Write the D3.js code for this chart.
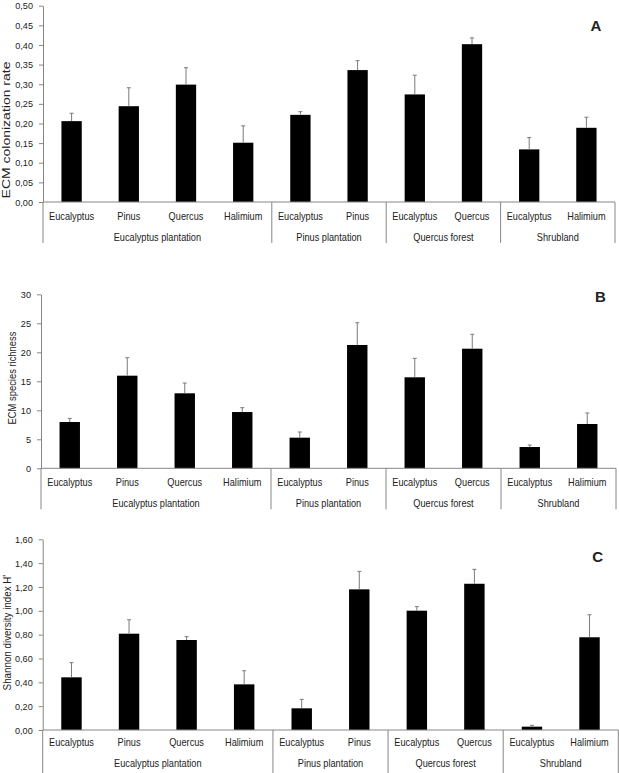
<!DOCTYPE html>
<html>
<head>
<meta charset="utf-8">
<script src="https://cdn.jsdelivr.net/npm/d3@7"></script>
<style>
  html, body { margin: 0; padding: 0; background: #fff; }
  svg { display: block; }
  text { font-family: "Liberation Sans", Arial, sans-serif; fill: #222; }
</style>
</head>
<body>
<svg id="chart" width="619" height="773"></svg>
<script>
// ---------- data ----------
const groups = ["Eucalyptus plantation", "Pinus plantation", "Quercus forest", "Shrubland"];
const hosts = ["Eucalyptus", "Pinus", "Quercus", "Halimium",
               "Eucalyptus", "Pinus",
               "Eucalyptus", "Quercus",
               "Eucalyptus", "Halimium"];
const hostGroup = [0, 0, 0, 0, 1, 1, 2, 2, 3, 3];

const colonization    = [0.206, 0.244, 0.299, 0.151, 0.222, 0.336, 0.274, 0.402, 0.134, 0.189];
const colonizationErr = [0.020, 0.047, 0.043, 0.043, 0.008, 0.024, 0.049, 0.016, 0.030, 0.027];

const richness    = [7.98, 15.97, 12.93, 9.70, 5.28, 21.26, 15.69, 20.62, 3.67, 7.64];
const richnessErr = [0.62, 3.10, 1.77, 0.75, 0.98, 3.84, 3.27, 2.48, 0.34, 1.89];

const shannon    = [0.442, 0.808, 0.755, 0.383, 0.182, 1.180, 1.001, 1.227, 0.028, 0.778];
const shannonErr = [0.123, 0.117, 0.028, 0.114, 0.075, 0.151, 0.034, 0.121, 0.011, 0.189];

const ticksA = [0, 0.05, 0.10, 0.15, 0.20, 0.25, 0.30, 0.35, 0.40, 0.45, 0.50];
const ticksB = [0, 5, 10, 15, 20, 25, 30];
const ticksC = [0, 0.20, 0.40, 0.60, 0.80, 1.00, 1.20, 1.40, 1.60];

const titleA = "ECM colonization rate";
const titleB = "ECM species richness";
const titleC = "Shannon diversity index H'";

// ---------- formats ----------
const locale = d3.formatLocale({decimal: ",", thousands: ".", grouping: [3], currency: ["", "€"]});
const fmt2 = locale.format(".2f");
const fmt0 = d3.format("d");

// ---------- layout (separate from data) ----------
const panels = [
  {values: colonization, errors: colonizationErr, ticks: ticksA, fmt: fmt2, title: titleA, letter: "A",
   x0: 43, x1: 615, yTop: 5.7, yZero: 202, titleX: 6.5, titleY: 130, titleSx: 1.4,
   letterX: 596, letterY: 30.7, catDy: 18, groupDy: 39, sepDy: 41},
  {values: richness, errors: richnessErr, ticks: ticksB, fmt: fmt0, title: titleB, letter: "B",
   x0: 41, x1: 616, yTop: 294.3, yZero: 468.3, titleX: 12.5, titleY: 378, titleSx: 0.94,
   letterX: 600.5, letterY: 301.7, catDy: 17.7, groupDy: 38.4, sepDy: 41},
  {values: shannon, errors: shannonErr, ticks: ticksC, fmt: fmt2, title: titleC, letter: "C",
   x0: 42.7, x1: 618.3, yTop: 539.3, yZero: 730, titleX: 7, titleY: 632.6, titleSx: 0.98,
   letterX: 597.7, letterY: 561.7, catDy: 16, groupDy: 36.7, sepDy: 45}
];

const AXIS = "#868686";
const ERR = "#7a7a7a";
const svg = d3.select("#chart");
const idx = d3.range(hosts.length);

function hText(g, x, y, str, size, sx) {
  return g.append("text")
    .attr("transform", `translate(${x},${y}) scale(${sx},1)`)
    .attr("text-anchor", "middle")
    .style("font-size", size + "px")
    .text(str);
}

panels.forEach(p => {
  const g = svg.append("g");
  const x = d3.scaleBand().domain(idx).range([p.x0, p.x1]).padding(0);
  const y = d3.scaleLinear().domain([p.ticks[0], p.ticks[p.ticks.length - 1]]).range([p.yZero, p.yTop]);
  const bw = x.bandwidth() * 0.355;

  // y axis
  const ax = g.append("g").attr("transform", `translate(${p.x0},0)`)
    .call(d3.axisLeft(y).tickValues(p.ticks).tickSize(4).tickSizeOuter(0).tickPadding(6).tickFormat(p.fmt));
  ax.select(".domain").attr("stroke", AXIS);
  ax.selectAll(".tick line").attr("stroke", AXIS);
  ax.selectAll(".tick text")
    .attr("x", null).attr("dy", null)
    .attr("dominant-baseline", "central")
    .attr("transform", "translate(-10,0) scale(0.95,1)")
    .style("font-size", "9.6px")
    .style("font-family", "'Liberation Sans', Arial, sans-serif")
    .attr("fill", "#222");

  // bars
  g.selectAll("rect.bar").data(idx).join("rect")
    .attr("class", "bar")
    .attr("x", i => x(i) + (x.bandwidth() - bw) / 2)
    .attr("width", bw)
    .attr("y", i => y(p.values[i]))
    .attr("height", i => y(0) - y(p.values[i]))
    .attr("fill", "#000");

  // error bars (upper only)
  g.selectAll("line.err").data(idx).join("line")
    .attr("class", "err")
    .attr("x1", i => x(i) + x.bandwidth() / 2).attr("x2", i => x(i) + x.bandwidth() / 2)
    .attr("y1", i => y(p.values[i])).attr("y2", i => y(p.values[i] + p.errors[i]))
    .attr("stroke", ERR).attr("stroke-width", 1);
  g.selectAll("line.cap").data(idx).join("line")
    .attr("class", "cap")
    .attr("x1", i => x(i) + x.bandwidth() / 2 - 2).attr("x2", i => x(i) + x.bandwidth() / 2 + 2)
    .attr("y1", i => y(p.values[i] + p.errors[i])).attr("y2", i => y(p.values[i] + p.errors[i]))
    .attr("stroke", ERR).attr("stroke-width", 1);

  // x axis baseline
  g.append("line").attr("x1", p.x0).attr("x2", p.x1)
    .attr("y1", y(0)).attr("y2", y(0)).attr("stroke", AXIS);

  // category labels
  idx.forEach(i => hText(g, x(i) + x.bandwidth() / 2, y(0) + p.catDy, hosts[i], 10.7, 0.86));

  // group labels and separators
  const seps = [p.x0];
  groups.forEach((name, gi) => {
    const members = idx.filter(i => hostGroup[i] === gi);
    const left = x(members[0]);
    const right = x(members[members.length - 1]) + x.bandwidth();
    seps.push(right);
    hText(g, (left + right) / 2, y(0) + p.groupDy, name, 10.7, 0.86);
  });
  seps.forEach(sx => {
    g.append("line").attr("x1", sx).attr("x2", sx)
      .attr("y1", y(0)).attr("y2", y(0) + p.sepDy).attr("stroke", AXIS);
  });

  // y title
  g.append("text")
    .attr("transform", `translate(${p.titleX},${p.titleY}) rotate(-90) scale(${p.titleSx},1)`)
    .attr("text-anchor", "middle")
    .attr("dominant-baseline", "central")
    .style("font-size", "10px")
    .text(p.title);

  // panel letter
  g.append("text")
    .attr("x", p.letterX).attr("y", p.letterY)
    .attr("text-anchor", "middle")
    .style("font-size", "15px").style("font-weight", "bold")
    .attr("fill", "#111")
    .text(p.letter);
});
</script>
</body>
</html>
